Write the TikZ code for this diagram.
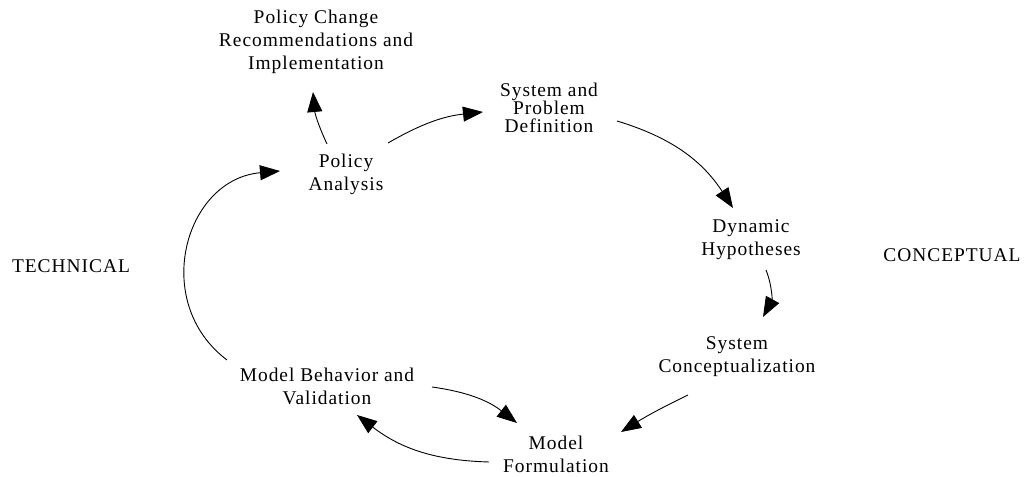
\documentclass[tikz,border=0pt]{standalone}
\usepackage{fontspec}
\setmainfont{Liberation Serif}[LetterSpace=5]
\usetikzlibrary{arrows.meta}
\begin{document}
\begin{tikzpicture}[x=1bp,y=1bp,
  lbl/.style={align=center,inner sep=0pt,font=\fontsize{19.5}{23}\selectfont},
  lbltight/.style={align=center,inner sep=0pt,font=\fontsize{19.5}{18}\selectfont},
  conn/.style={line width=0.9bp,-{Triangle[length=20bp,width=15bp]}}]
\path[use as bounding box,fill=white] (0,0) rectangle (1026,477);
\node[lbl] (pcr) at (316,435) {Policy Change\\Recommendations and\\Implementation};
\node[lbltight] (spd) at (549,369) {System and\\Problem\\Definition};
\node[lbl] (pa) at (346,303) {Policy\\Analysis};
\node[lbl] (dh) at (751,237) {Dynamic\\Hypotheses};
\node[lbl] (sc) at (737,120) {System\\Conceptualization};
\node[lbl] (mbv) at (327,91) {Model Behavior and\\Validation};
\node[lbl] (mf) at (556,23) {Model\\Formulation};
\node[lbl] (tech) at (71,211) {TECHNICAL};
\node[lbl] (conc) at (952,222) {CONCEPTUAL};
\draw[conn] ([shift={(-19,30)}]pa.center) to[bend left=10] ([shift={(-3,-50)}]pcr.center);
\draw[conn] ([shift={(42,31)}]pa.center) to[bend left=12] ([shift={(-66,-4)}]spd.center);
\draw[conn] ([shift={(68,-13)}]spd.center) to[bend left=20] ([shift={(-18,32)}]dh.center);
\draw[conn] ([shift={(15,-30)}]dh.center) to[bend left=25] ([shift={(26,40)}]sc.center);
\draw[conn] ([shift={(-49,-38)}]sc.center) to[bend right=3] ([shift={(65,22)}]mf.center);
\draw[conn] ([shift={(105,-1)}]mbv.center) to[bend left=15] ([shift={(-39,31)}]mf.center);
\draw[conn] ([shift={(-67,-8)}]mf.center) to[bend left=18] ([shift={(30,-29)}]mbv.center);
\draw[conn] ([shift={(-100,26)}]mbv.center) to[out=143,in=185,looseness=1.25] ([shift={(-66,3)}]pa.center);
\end{tikzpicture}
\end{document}
